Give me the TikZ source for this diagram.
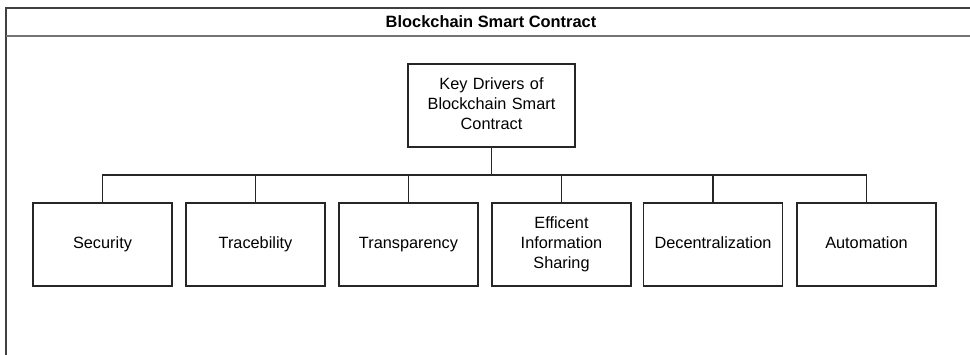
\documentclass[tikz,border=0pt]{standalone}
\usepackage{fontspec}
\setmainfont{Liberation Sans}
\begin{document}
\begin{tikzpicture}[x=1pt,y=-1pt,
  frameline/.style={draw=black!75,line width=1.6pt},
  box/.style={draw=black!85,line width=1.2pt,minimum width=139pt,minimum height=83pt,
    align=center,font=\fontsize{16.3}{20}\selectfont,inner sep=0pt,text width=130pt,
    execute at begin node=\strut,execute at end node=\strut},
  link/.style={draw=black!85,line width=1.2pt}]
\useasboundingbox (0,0) rectangle (970,355);
% outer frame and title band
\draw[frameline] (6,355) -- (6,8) -- (970,8);
\draw[frameline,draw=black!55] (6,36) -- (970,36);
\node[font=\bfseries\fontsize{16.4}{20}\selectfont] (title) at (491,22) {Blockchain Smart Contract};
% root
\node[box,minimum width=167pt] (root) at (491.5,105.5) {Key Drivers of\\Blockchain Smart\\Contract};
% children
\node[box] (c1) at (102.5,244.5) {Security};
\node[box] (c2) at (255.5,244.5) {Tracebility};
\node[box] (c3) at (408.5,244.5) {Transparency};
\node[box] (c4) at (561.5,244.5) {Efficent\\Information\\Sharing};
\node[box] (c5) at (713,244.5) {Decentralization};
\node[box] (c6) at (866.5,244.5) {Automation};
% connectors
\coordinate (bus) at (491.5,175);
\draw[link] (root.south) -- (bus);
\draw[link] (c1.north) |- (bus) -| (c6.north);
\foreach \c in {c2,c3,c4,c5}
  \draw[link] (\c.north) -- (\c.north |- bus);
\end{tikzpicture}
\end{document}
